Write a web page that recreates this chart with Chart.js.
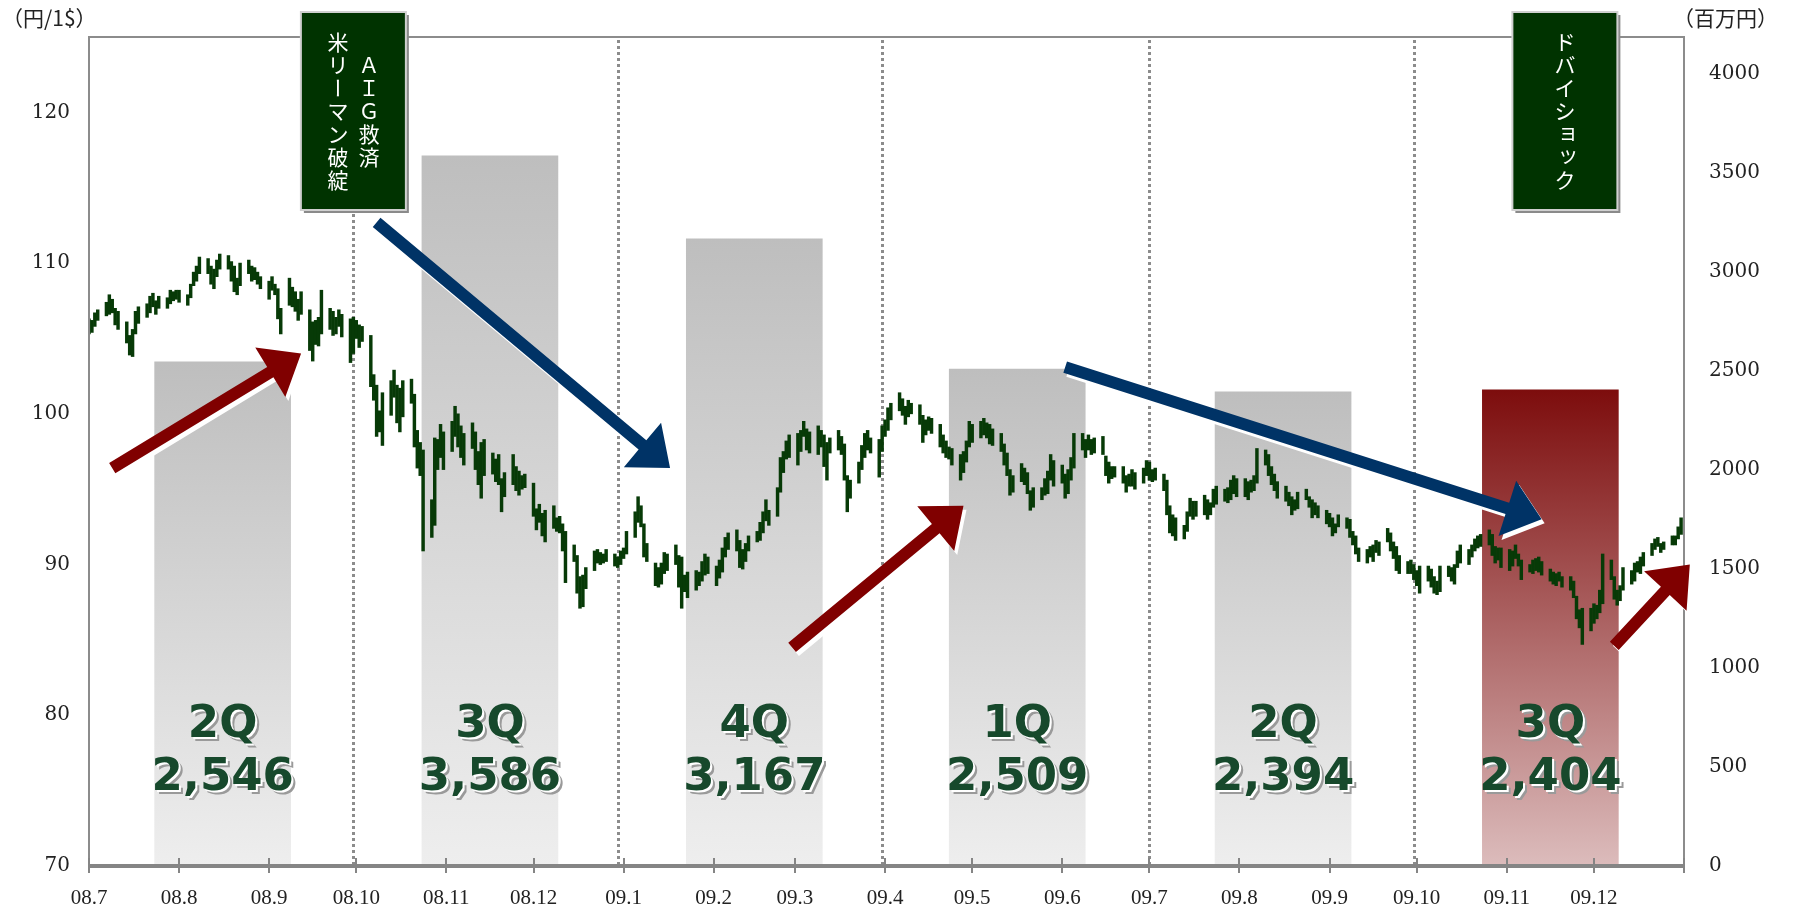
<!DOCTYPE html>
<html lang="ja">
<head>
<meta charset="utf-8">
<title>為替レートと四半期売上高</title>
<script src="https://cdn.jsdelivr.net/npm/chart.js@4.4.1/dist/chart.umd.min.js"></script>
<style>
  html, body { margin: 0; padding: 0; background: #fff; }
  #grafico { display: block; }
</style>
</head>
<body>
<canvas id="grafico" width="1793" height="909"></canvas>
<script>
// 月ラベル（08.7 〜 09.12）
const monthLabels = ['08.7', '08.8', '08.9', '08.10', '08.11', '08.12',
    '09.1', '09.2', '09.3', '09.4', '09.5', '09.6',
    '09.7', '09.8', '09.9', '09.10', '09.11', '09.12'];

// 目盛
const yenTicks = [70, 80, 90, 100, 110, 120];
const salesTicks = [0, 500, 1000, 1500, 2000, 2500, 3000, 3500, 4000];

// 四半期売上高（百万円）
const quarterLabels = ['2Q', '3Q', '4Q', '1Q', '2Q', '3Q'];
const quarterSales = [2546, 3586, 3167, 2509, 2394, 2404];
const latestQuarter = 5;

// 四半期の区切り線
const quarterLines = ['2008-09-30', '2008-12-30', '2009-03-31', '2009-07-01', '2009-09-30'];

// ドル円 日足の高値・安値（月ごと、営業日順） [高値, 安値]
const usdJpyMonths = [
    // 08.7
    [[106.3,105.3],[106.2,105.4],[106.7,105.8],[106.9,106.2],[107.4,106.5],[107.9,106.6],[107.6,106.7],[107.0,105.9],
     [106.8,105.6],[106.1,104.7],[105.2,103.9],[105.6,103.8],[106.8,105.3],[107.1,106.0],[107.3,106.4],[107.8,106.7],
     [108.0,107.1],[107.5,106.6],[107.8,107.0],[107.7,107.0],[108.2,107.3],[108.1,107.5],[108.2,107.6]],
    // 08.8
    [[108.2,107.4],[107.9,107.2],[108.6,107.7],[109.4,108.5],[109.8,108.8],[110.4,109.3],[110.3,109.3],[109.8,108.6],
     [109.6,108.3],[110.2,109.1],[110.6,109.6],[110.5,109.6],[110.1,108.8],[109.8,108.1],[109.0,107.9],[110.0,108.5],
     [110.2,109.3],[109.8,108.8],[109.7,108.9],[109.4,108.6],[109.1,108.3]],
    // 08.9
    [[108.8,107.6],[109.1,108.2],[108.6,107.9],[108.3,106.3],[107.0,105.3],[109.0,107.2],[108.4,107.1],[108.1,106.8],
     [107.6,106.2],[108.1,106.6],[106.9,104.2],[106.1,103.5],[106.2,104.6],[106.4,104.5],[108.2,105.3],[107.0,105.6],
     [106.8,105.2],[106.4,105.3],[106.9,105.8],[106.6,105.1],[106.3,103.4],[106.4,104.0]],
    // 08.10
    [[106.2,105.0],[105.9,104.4],[105.8,104.8],[105.2,101.8],[102.6,100.9],[101.9,98.5],[100.2,98.8],[101.4,97.9],
     [102.2,99.9],[102.9,101.1],[101.9,99.4],[101.7,98.8],[102.2,99.8],[102.3,100.7],[101.3,97.8],[98.9,96.4],
     [98.1,95.9],[97.6,90.9],[94.3,91.8],[98.4,92.6],[98.3,96.3],[99.3,97.1],[98.8,96.3]],
    // 08.11
    [[99.5,97.5],[100.5,98.5],[100.0,97.8],[99.2,97.1],[98.7,96.6],[99.4,97.7],[98.8,96.3],[97.5,95.3],
     [98.1,94.4],[98.3,95.9],[97.4,96.0],[97.0,95.5],[97.3,95.3],[95.7,93.5],[96.1,94.5],[97.3,95.3],
     [96.5,94.9],[96.2,94.6],[95.9,95.0],[96.0,95.1]],
    // 08.12
    [[95.4,93.2],[93.7,92.3],[94.0,92.8],[93.4,91.9],[93.6,91.5],[93.9,92.4],[93.1,92.2],[93.2,92.1],
     [92.7,90.9],[92.2,88.8],[91.3,90.2],[90.6,88.1],[89.2,87.1],[89.3,87.2],[89.8,88.4],[90.9,89.6],
     [91.0,90.1],[90.8,90.0],[90.7,90.1],[91.0,90.2],[90.7,89.9],[90.5,89.8],[90.9,90.0]],
    // 09.1
    [[91.1,90.4],[92.2,90.7],[93.5,91.8],[94.5,92.8],[93.9,92.5],[92.7,90.5],[91.4,90.2],[90.1,88.6],
     [89.8,88.5],[90.1,88.7],[90.8,89.4],[90.7,89.6],[91.3,90.0],[90.6,88.5],[90.5,87.1],[89.3,88.2],
     [89.5,87.8],[89.6,88.3],[89.5,88.6],[90.2,88.9],[90.7,89.3],[90.5,89.4]],
    // 09.2
    [[89.9,88.6],[90.3,89.1],[91.1,89.5],[91.8,90.5],[92.1,91.0],[92.3,90.9],[91.6,89.8],[91.0,89.7],
     [91.4,90.2],[91.9,90.9],[92.2,91.5],[92.8,91.6],[93.5,92.1],[94.3,92.9],[93.6,92.6],[95.1,93.2],
     [97.1,94.8],[97.5,96.1],[98.2,97.0],[98.6,97.1]],
    // 09.3
    [[98.7,96.6],[98.9,97.5],[99.5,98.5],[99.0,97.6],[98.8,97.4],[99.2,97.3],[98.9,97.8],[98.6,96.5],
     [98.1,95.6],[98.4,97.4],[98.9,97.6],[98.5,97.3],[98.0,95.6],[95.9,93.5],[95.6,94.4],[96.8,95.4],
     [97.9,96.3],[98.7,97.1],[98.9,97.6],[98.4,97.4],[98.3,95.8],[99.2,97.5]],
    // 09.4
    [[99.6,98.5],[100.4,98.9],[100.7,99.6],[101.4,100.2],[101.0,99.9],[100.5,99.3],[100.9,99.8],[100.7,100.0],
     [100.6,99.3],[99.9,98.1],[99.6,98.6],[99.8,98.9],[99.7,98.7],[99.3,97.8],[98.6,97.4],[98.2,97.1],
     [97.8,97.0],[97.7,96.6],[97.3,95.6],[97.5,96.1],[98.2,96.8],[99.5,97.8]],
    // 09.5
    [[99.3,98.1],[99.5,98.4],[99.7,98.6],[99.4,98.4],[99.3,98.0],[99.0,97.9],[98.7,97.5],[98.0,96.6],
     [97.4,95.9],[96.3,94.6],[95.9,94.8],[96.7,95.5],[96.4,95.3],[96.1,94.7],[94.9,93.6],[95.1,93.8],
     [95.1,94.3],[95.7,94.6],[96.2,94.7],[97.3,95.6],[96.9,95.2]],
    // 09.6
    [[96.6,95.4],[96.0,94.4],[96.3,94.7],[97.1,95.6],[98.7,96.4],[98.7,97.6],[98.3,97.1],[98.6,97.6],
     [98.3,97.3],[98.4,97.4],[98.5,97.3],[97.2,95.9],[96.8,95.4],[96.5,95.7],[96.5,95.8],[96.5,95.4],
     [95.9,94.8],[96.0,95.2],[96.3,95.2],[96.1,95.0],[96.4,95.4],[96.9,95.9]],
    // 09.7
    [[96.8,95.6],[96.3,95.5],[96.4,95.6],[96.0,94.9],[95.6,93.3],[93.9,92.1],[93.3,91.9],[93.1,91.6],
     [92.6,91.7],[93.5,92.2],[94.4,93.2],[94.2,93.0],[94.2,93.2],[94.6,93.3],[94.3,93.0],[94.1,93.3],
     [95.0,93.8],[95.2,94.0],[95.0,94.2],[95.1,94.1],[95.6,94.3],[95.9,94.7],[95.7,94.5]],
    // 09.8
    [[95.7,94.5],[95.5,94.3],[95.6,94.8],[95.9,94.9],[97.7,95.4],[97.6,96.6],[97.3,95.9],[96.5,95.3],
     [96.0,94.9],[95.5,94.4],[95.2,94.2],[94.8,93.9],[94.5,93.3],[94.3,93.6],[94.8,93.7],[95.0,94.3],
     [94.5,93.8],[94.3,93.1],[94.1,93.3],[93.9,93.1],[93.6,92.7]],
    // 09.9
    [[93.4,92.5],[93.1,91.9],[92.7,92.1],[93.3,92.5],[93.1,92.4],[93.0,91.8],[92.2,91.3],[91.9,90.7],
     [91.1,90.2],[91.0,90.1],[91.2,90.5],[91.3,90.2],[91.6,90.8],[91.5,90.6],[92.4,91.5],[92.1,90.9],
     [91.5,90.4],[91.2,89.6],[90.6,89.4],[90.2,89.4],[90.3,89.4],[90.0,89.0]],
    // 09.10
    [[89.6,88.6],[89.9,88.1],[89.9,88.9],[89.7,88.5],[89.2,88.1],[88.9,88.0],[89.9,88.2],[89.9,89.2],
     [89.8,88.9],[90.0,88.7],[90.9,89.8],[91.3,90.1],[91.0,90.0],[91.3,90.5],[91.7,90.9],[91.9,91.1],
     [92.0,91.2],[92.3,91.3],[92.0,90.6],[91.2,90.1],[91.1,90.3],[91.1,89.8]],
    // 09.11
    [[91.0,89.6],[90.9,89.9],[91.3,90.4],[90.7,89.9],[90.3,89.0],[90.0,89.5],[90.3,89.4],[90.4,89.6],
     [90.5,89.5],[90.2,89.3],[89.7,88.9],[89.5,88.7],[89.4,88.6],[89.5,88.9],[89.2,88.5],[89.2,88.3],
     [88.9,87.8],[87.9,86.4],[87.0,85.8],[87.1,84.7],[87.1,85.6]],
    // 09.12
    [[87.4,86.1],[87.3,86.4],[88.3,86.8],[90.7,87.4],[90.3,89.0],[89.2,87.7],[88.3,87.3],[88.6,87.6],
     [89.8,88.3],[89.6,88.7],[90.1,88.9],[90.2,89.5],[90.5,89.4],[90.8,89.9],[91.4,90.6],[91.7,91.0],
     [91.8,91.2],[91.4,90.8],[91.5,91.0],[91.9,91.3],[91.9,91.3],[92.5,91.7],[93.1,92.0]]
];

// 注記ボックス（縦書き、右の列から）
const eventNotes = [
    { date: '2008-09-30', columns: ['ＡＩＧ救済', '米リーマン破綻'] },
    { date: '2009-11-21', columns: ['ドバイショック'] }
];

// トレンド矢印（日付, 円/ドル）
const trendArrows = [
    { from: ['2008-07-09', 96.4], to: ['2008-09-12', 104.0], color: '#800000' },
    { from: ['2008-10-08', 112.7], to: ['2009-01-17', 96.4], color: '#003366' },
    { from: ['2009-02-28', 84.5], to: ['2009-04-28', 93.9], color: '#800000' },
    { from: ['2009-06-02', 103.1], to: ['2009-11-13', 93.0], color: '#003366' },
    { from: ['2009-12-08', 84.6], to: ['2010-01-03', 90.0], color: '#800000' }
];

const ORIGIN = Date.UTC(2008, 6, 1);
const DAY = 86400000;

function dayOf(fecha) {
    const [a, m, d] = fecha.split('-').map(Number);
    return (Date.UTC(a, m - 1, d) - ORIGIN) / DAY;
}

function monthStart(k) {
    return (Date.UTC(2008, 6 + k, 1) - ORIGIN) / DAY;
}

const monthTicks = [];
for (let k = 0; k <= monthLabels.length; k++) monthTicks.push(monthStart(k));

// 日足を営業日に並べる
const candles = [];
usdJpyMonths.forEach((mes, k) => {
    const fin = Date.UTC(2008, 7 + k, 1);
    let i = 0;
    for (let t = Date.UTC(2008, 6 + k, 1); t < fin && i < mes.length; t += DAY) {
        const dow = new Date(t).getUTCDay();
        if (dow === 0 || dow === 6) continue;
        candles.push({ x: (t - ORIGIN) / DAY, y: [mes[i][1], mes[i][0]] });
        i++;
    }
});

const salesBars = quarterSales.map((v, i) => ({
    x: (monthStart(i * 3) + monthStart(i * 3 + 3)) / 2,
    y: v
}));

function barFill(ctx) {
    const chart = ctx.chart;
    const area = chart.chartArea;
    if (!area || ctx.type !== 'data') return '#c0c0c0';
    const top = chart.scales.y2.getPixelForValue(quarterSales[ctx.dataIndex]);
    const g = chart.ctx.createLinearGradient(0, top, 0, area.bottom);
    if (ctx.dataIndex === latestQuarter) {
        g.addColorStop(0, '#7d0d0d');
        g.addColorStop(1, '#dcbcbc');
    } else {
        g.addColorStop(0, '#bebebe');
        g.addColorStop(1, '#eeeeee');
    }
    return g;
}

function drawArrow(c, x1, y1, x2, y2, color) {
    const len = Math.hypot(x2 - x1, y2 - y1);
    const ux = (x2 - x1) / len, uy = (y2 - y1) / len;
    const px = -uy, py = ux;
    const shaft = 6, headLen = 36, headW = 29;
    const bx = x2 - ux * headLen, by = y2 - uy * headLen;
    c.beginPath();
    c.moveTo(x1 + px * shaft, y1 + py * shaft);
    c.lineTo(bx + px * shaft, by + py * shaft);
    c.lineTo(bx + px * headW, by + py * headW);
    c.lineTo(x2, y2);
    c.lineTo(bx - px * headW, by - py * headW);
    c.lineTo(bx - px * shaft, by - py * shaft);
    c.lineTo(x1 - px * shaft, y1 - py * shaft);
    c.closePath();
    c.fillStyle = color;
    c.fill();
}

function drawNote(c, cx, note) {
    const w = 105, h = 198, top = 12;
    const left = cx - w / 2;
    c.fillStyle = '#8a8a8a';
    c.fillRect(left + 3, top + 3, w, h);
    c.fillStyle = '#003300';
    c.fillRect(left, top, w, h);
    c.strokeStyle = '#d0d0d0';
    c.lineWidth = 2;
    c.strokeRect(left, top, w, h);

    c.font = '21px "Noto Sans CJK JP"';
    c.fillStyle = '#ffffff';
    c.textAlign = 'center';
    c.textBaseline = 'middle';
    const pitch = 23;
    const midY = top + h / 2;
    const n = note.columns.length;
    note.columns.forEach((col, j) => {
        const x = cx + ((n - 1) / 2 - j) * 31;
        const chars = Array.from(col);
        chars.forEach((ch, k) => {
            const y = midY + (k - (chars.length - 1) / 2) * pitch;
            c.save();
            c.translate(x, y);
            if (ch === 'ー') c.rotate(Math.PI / 2);
            if ('ョッ'.includes(ch)) c.translate(3, -3);
            c.fillText(ch, 0, 0);
            c.restore();
        });
    });
}

const decoraciones = {
    id: 'decoraciones',
    beforeDraw(chart) {
        const c = chart.ctx;
        c.save();
        c.fillStyle = '#ffffff';
        c.fillRect(0, 0, chart.width, chart.height);
        c.restore();
    },
    beforeDatasetsDraw(chart) {
        const c = chart.ctx;
        const { top, bottom } = chart.chartArea;
        const xs = chart.scales.x;
        c.save();
        c.strokeStyle = '#8c8c8c';
        c.lineWidth = 3;
        c.setLineDash([3, 3]);
        quarterLines.forEach(f => {
            const x = Math.round(xs.getPixelForValue(dayOf(f))) + 0.5;
            c.beginPath();
            c.moveTo(x, top + 3);
            c.lineTo(x, bottom);
            c.stroke();
        });
        c.restore();
    },
    afterDatasetsDraw(chart) {
        const c = chart.ctx;
        const { left, right, top, bottom } = chart.chartArea;
        const xs = chart.scales.x, ys = chart.scales.y;

        // 四半期ラベル
        const meta = chart.getDatasetMeta(1);
        c.save();
        c.textAlign = 'center';
        c.textBaseline = 'alphabetic';
        c.font = 'bold 45px "DejaVu Sans"';
        meta.data.forEach((bar, i) => {
            const lines = [[quarterLabels[i], bottom - 129], [quarterSales[i].toLocaleString('en-US'), bottom - 76]];
            lines.forEach(([txt, y]) => {
                c.fillStyle = '#9a9a9a';
                c.fillText(txt, bar.x + 4, y + 4);
                c.fillStyle = '#ffffff';
                c.fillText(txt, bar.x + 2, y + 2);
                c.fillStyle = '#17492c';
                c.fillText(txt, bar.x, y);
            });
        });
        c.restore();

        // 枠と軸
        c.save();
        c.strokeStyle = '#8c8c8c';
        c.lineWidth = 2;
        c.beginPath();
        c.moveTo(left, bottom);
        c.lineTo(left, top);
        c.lineTo(right, top);
        c.lineTo(right, bottom);
        c.stroke();
        c.strokeStyle = '#858585';
        c.lineWidth = 4;
        c.beginPath();
        c.moveTo(left, bottom);
        c.lineTo(right, bottom);
        c.stroke();
        c.lineWidth = 2;
        monthTicks.forEach(d => {
            const x = Math.round(xs.getPixelForValue(d));
            c.beginPath();
            c.moveTo(x, bottom - 8);
            c.lineTo(x, bottom + 7);
            c.stroke();
        });
        c.restore();

        // 矢印（白い影つき）
        c.save();
        trendArrows.forEach(a => {
            const x1 = xs.getPixelForValue(dayOf(a.from[0])), y1 = ys.getPixelForValue(a.from[1]);
            const x2 = xs.getPixelForValue(dayOf(a.to[0])), y2 = ys.getPixelForValue(a.to[1]);
            drawArrow(c, x1 + 3, y1 + 4, x2 + 3, y2 + 4, '#ffffff');
            drawArrow(c, x1, y1, x2, y2, a.color);
        });
        c.restore();

        // 注記ボックス
        c.save();
        eventNotes.forEach(n => drawNote(c, xs.getPixelForValue(dayOf(n.date)), n));
        c.restore();

        // 単位
        c.save();
        c.fillStyle = '#222222';
        c.font = '21px "Noto Sans CJK JP"';
        c.textBaseline = 'middle';
        c.textAlign = 'left';
        c.fillText('（円/1$）', 2, 18);
        c.fillText('（百万円）', 1673, 18);
        c.restore();
    }
};

new Chart(document.getElementById('grafico'), {
    type: 'bar',
    data: {
        datasets: [
            {
                label: 'ドル円',
                data: candles,
                yAxisID: 'y',
                backgroundColor: '#073a07',
                barThickness: 2.8,
                grouped: false,
                order: 0
            },
            {
                label: '売上高',
                data: salesBars,
                yAxisID: 'y2',
                backgroundColor: barFill,
                barThickness: 136,
                grouped: false,
                order: 1
            }
        ]
    },
    options: {
        responsive: false,
        devicePixelRatio: 1,
        animation: false,
        layout: { padding: { top: 33, left: 0, right: 0, bottom: 0 } },
        plugins: {
            legend: { display: false },
            tooltip: { enabled: false }
        },
        scales: {
            x: {
                type: 'linear',
                min: 0,
                max: monthTicks[monthTicks.length - 1],
                offset: false,
                grid: { display: false, drawTicks: false },
                border: { display: false },
                afterBuildTicks: scale => { scale.ticks = monthTicks.map(v => ({ value: v })); },
                afterFit: scale => { scale.height = 43; },
                ticks: {
                    autoSkip: false,
                    maxRotation: 0,
                    padding: 20,
                    color: '#222222',
                    font: { family: '"Liberation Serif"', size: 21 },
                    callback: (v, i) => monthLabels[i] || ''
                }
            },
            y: {
                position: 'left',
                min: 70,
                max: 125,
                grid: { display: false, drawTicks: false },
                border: { display: false },
                afterBuildTicks: scale => { scale.ticks = yenTicks.map(v => ({ value: v })); },
                afterFit: scale => { scale.width = 89; },
                ticks: {
                    autoSkip: false,
                    padding: 19,
                    color: '#222222',
                    font: { family: '"DejaVu Serif"', size: 20 },
                    callback: v => String(v)
                }
            },
            y2: {
                position: 'right',
                min: 0,
                max: 4186,
                grid: { display: false, drawTicks: false },
                border: { display: false },
                afterBuildTicks: scale => { scale.ticks = salesTicks.map(v => ({ value: v })); },
                afterFit: scale => { scale.width = 109; },
                ticks: {
                    autoSkip: false,
                    padding: 25,
                    color: '#222222',
                    font: { family: '"DejaVu Serif"', size: 20 },
                    callback: v => String(v)
                }
            }
        }
    },
    plugins: [decoraciones]
});
</script>
</body>
</html>
